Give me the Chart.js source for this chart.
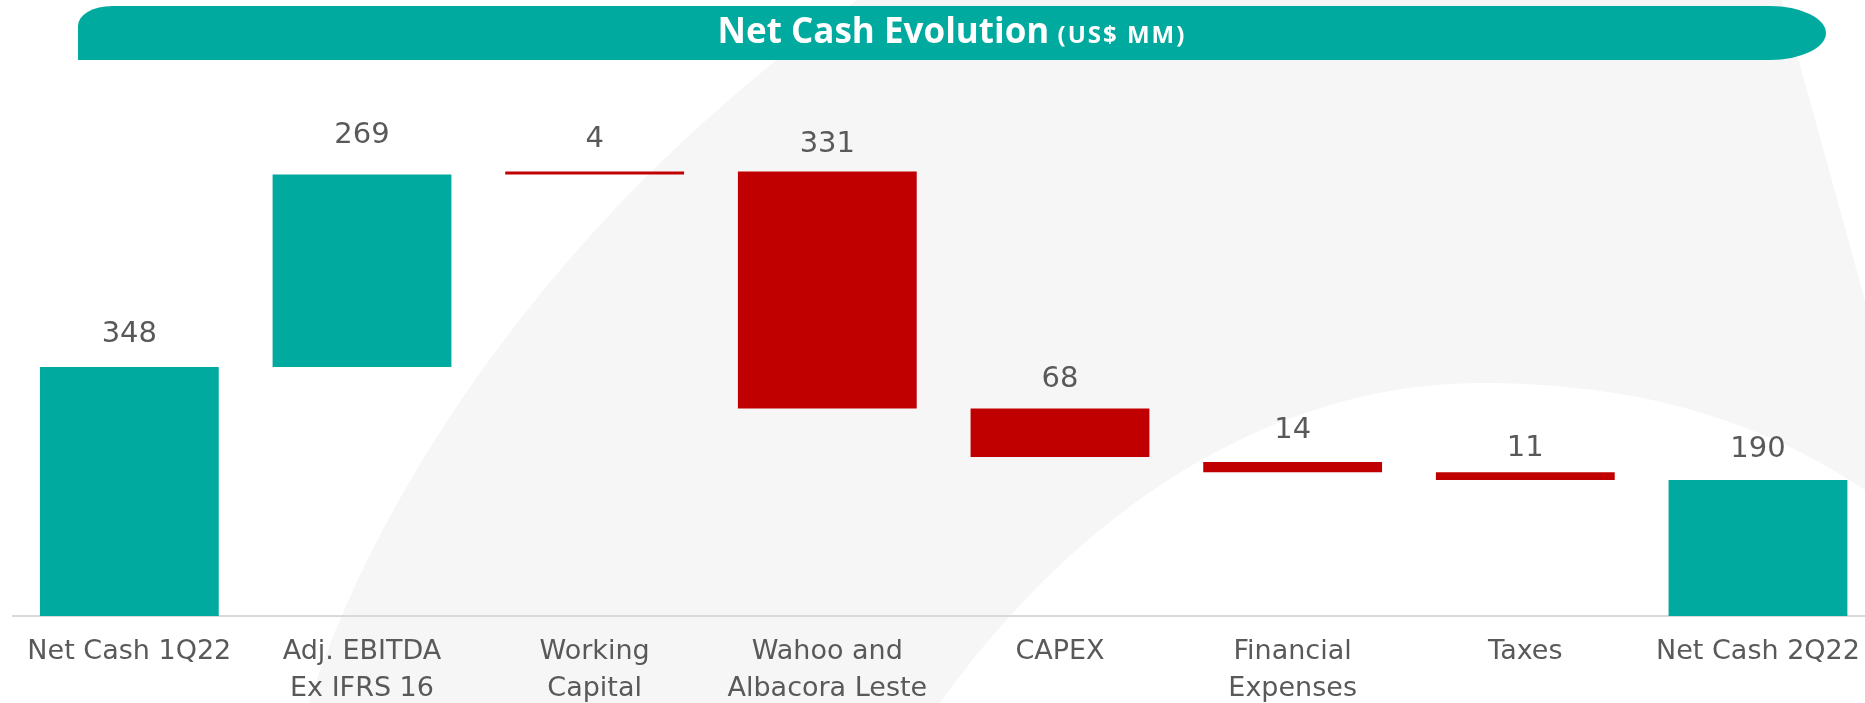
<!DOCTYPE html>
<html>
<head>
<meta charset="utf-8">
<title>Net Cash Evolution</title>
<script src="https://cdn.jsdelivr.net/npm/chart.js@4.4.1/dist/chart.umd.min.js"></script>
<style>
    html, body {
        margin: 0;
        padding: 0;
        width: 1865px;
        height: 703px;
        overflow: hidden;
        background: #ffffff;
    }

    #fundo {
        position: absolute;
        left: 0;
        top: 0;
    }

    .titulo-barra {
        position: absolute;
        left: 78px;
        top: 6px;
        width: 1748px;
        height: 54px;
        background: #00aa9e;
        border-radius: 34px 56px 56px 0 / 20px 27px 27px 0;
        color: #ffffff;
        font-family: "Open Sans", sans-serif;
        font-weight: bold;
        text-align: center;
        line-height: 48px;
        z-index: 2;
    }

    .titulo-principal {
        font-size: 35px;
    }

    .titulo-unidade {
        font-size: 24px;
        letter-spacing: 2px;
        margin-left: 4px;
    }

    .div-grafico {
        position: absolute;
        left: 0;
        top: 0;
        width: 1877px;
        height: 703px;
        z-index: 1;
    }
</style>
</head>
<body>
<svg id="fundo" width="1865" height="703">
    <path d="M857 0 L1782 0 L1865 300 L1865 490 C1760 420, 1640 383, 1480 383 C1300 383, 1100 480, 940 703 L309 703 C380 480, 570 200, 857 0 Z" fill="#f6f6f6"></path>
</svg>

<div class="titulo-barra">
    <span class="titulo-principal">Net Cash Evolution</span> <span class="titulo-unidade">(US$ MM)</span>
</div>

<div class="div-grafico">
    <canvas id="grafico-caixa"></canvas>
</div>

<script>
// Dados (US$ MM)
const categorias = [
    ['Net Cash 1Q22'],
    ['Adj. EBITDA', 'Ex IFRS 16'],
    ['Working', 'Capital'],
    ['Wahoo and', 'Albacora Leste'],
    ['CAPEX'],
    ['Financial', 'Expenses'],
    ['Taxes'],
    ['Net Cash 2Q22']
];
const valores = [348, 269, 4, 331, 68, 14, 11, 190];
const inicioBarra = [0, 348, 617, 290, 222, 201, 190, 0];
const fimBarra = [348, 617, 621, 621, 290, 215, 201, 190];
const tipos = ['total', 'aumento', 'reducao', 'reducao', 'reducao', 'reducao', 'reducao', 'total'];

const corVerde = '#00aa9e';
const corVermelha = '#c00000';

// distância (px) entre o topo da barra e o rótulo, como no slide
const espacoRotulo = [25, 31, 25, 20, 21, 24, 16, 23];

let dadosBarras = [];
let coresBarras = [];

for (let i = 0; i < valores.length; i++) {
    dadosBarras.push([inicioBarra[i], fimBarra[i]]);
    coresBarras.push(tipos[i] == 'reducao' ? corVermelha : corVerde);
}

// Rótulos com os valores acima de cada barra
const pluginRotulos = {
    id: 'rotulos',
    afterDatasetsDraw(chart) {
        const ctx = chart.ctx;
        const meta = chart.getDatasetMeta(0);

        meta.data.forEach(function (barra, i) {
            const topo = Math.min(barra.y, barra.base);

            ctx.save();
            ctx.font = '29px "DejaVu Sans"';
            ctx.fillStyle = '#595959';
            ctx.textAlign = 'center';
            ctx.textBaseline = 'alphabetic';
            ctx.fillText(valores[i], barra.x, topo - espacoRotulo[i]);
            ctx.restore();
        });
    }
};

const configCaixa = {
    type: 'bar',
    data: {
        labels: categorias,
        datasets: [{
            label: 'Net Cash',
            data: dadosBarras,
            backgroundColor: coresBarras,
            borderWidth: 0,
            barPercentage: 1,
            categoryPercentage: 0.7686
        }]
    },
    options: {
        responsive: true,
        maintainAspectRatio: false,
        animation: false,
        layout: {
            padding: { top: 115, left: 13, right: 1, bottom: 0 }
        },
        plugins: {
            legend: { display: false },
            tooltip: { enabled: false }
        },
        scales: {
            x: {
                grid: { display: false, drawTicks: false },
                border: { display: true, color: '#d9d9d9', width: 2 },
                ticks: {
                    color: '#595959',
                    font: { family: 'DejaVu Sans', size: 27, lineHeight: 1.38 },
                    padding: 17,
                    maxRotation: 0,
                    autoSkip: false
                },
                afterFit: function (escala) {
                    escala.height = 87;
                }
            },
            y: {
                display: false,
                min: 0,
                max: 700
            }
        }
    },
    plugins: [pluginRotulos]
};

let graficoCaixa = new Chart(
    document.getElementById('grafico-caixa'),
    configCaixa
);
</script>
</body>
</html>
